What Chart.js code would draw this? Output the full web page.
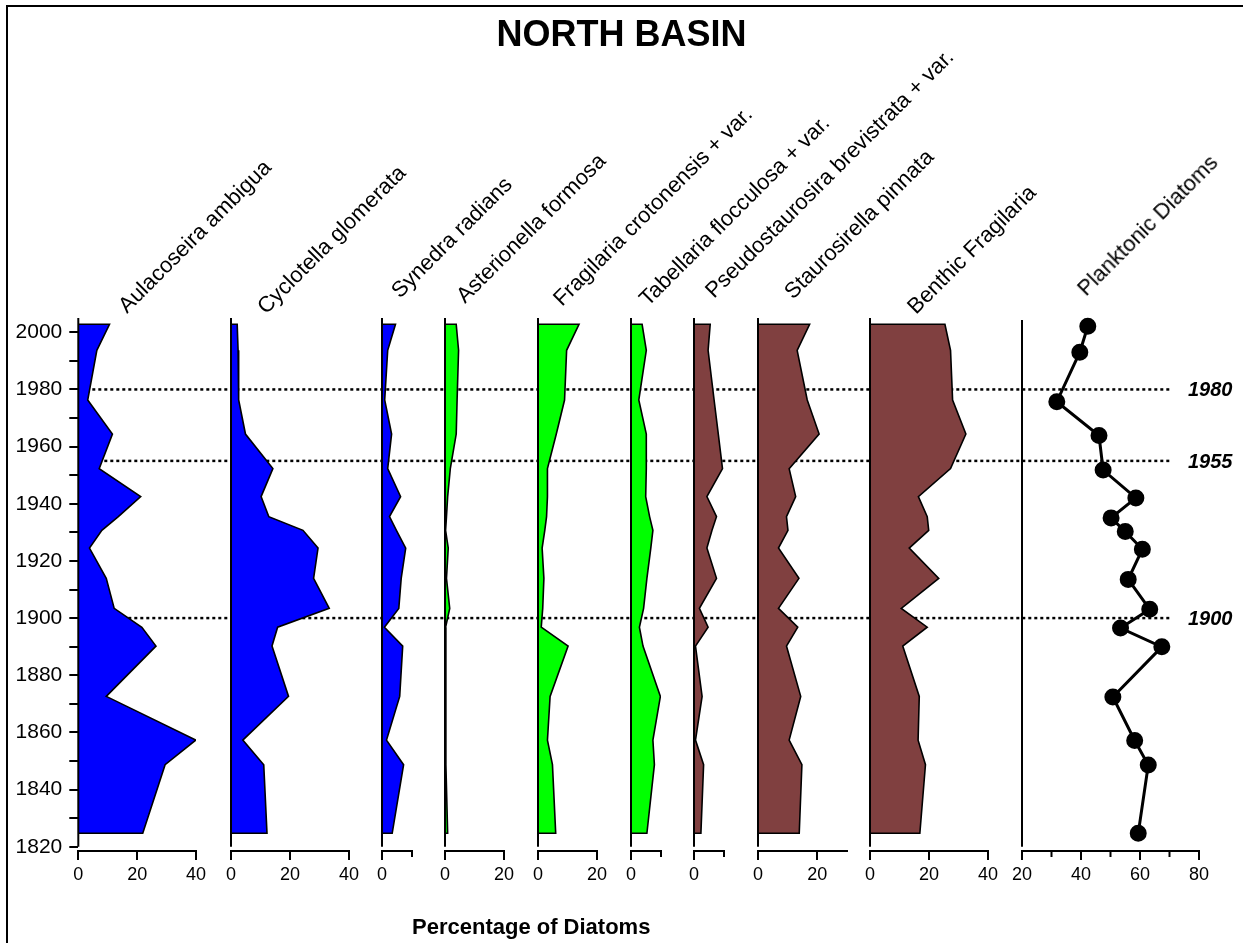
<!DOCTYPE html>
<html>
<head>
<meta charset="utf-8">
<script src="https://cdn.jsdelivr.net/npm/chart.js@4.4.1/dist/chart.umd.min.js"></script>
<style>
  html, body { margin: 0; padding: 0; background: #fff; }
  #page { position: relative; width: 1243px; height: 943px; overflow: hidden; background: #fff;
          font-family: Arial, "Liberation Sans", sans-serif; color: #000; }
  #frame { position: absolute; left: 6px; top: 5px; width: 1400px; height: 1100px;
           border-top: 2px solid #000; border-left: 2px solid #000; }
  canvas { position: absolute; }
  .title { position: absolute; width: 0; height: 0; transform: rotate(-45deg); transform-origin: 0 0; }
  .title span { position: absolute; left: 0; bottom: -0.16em; white-space: nowrap; font-size: 22px; line-height: 1; }
  .marker { position: absolute; font-size: 20px; font-weight: bold; font-style: italic; line-height: 24px; height: 24px; }
  #heading { position: absolute; left: 0; width: 1243px; top: 13px; text-align: center; font-size: 36px; font-weight: bold; }
  #xlabel { position: absolute; left: 412px; top: 914px; font-size: 22px; font-weight: bold; white-space: nowrap; }
</style>
</head>
<body>
<div id="page">
  <div id="frame"></div>
  <canvas id="bg" width="1243" height="943"></canvas>
  <div id="heading">NORTH BASIN</div>
  <div id="xlabel">Percentage of Diatoms</div>
</div>
<script>
// sample ages (years AD), top to bottom
const years = [2002.8, 1993.7, 1976.3, 1964.4, 1952.3, 1942.5, 1935.5, 1930.7, 1924.5,
               1913.9, 1903.4, 1896.8, 1890.2, 1872.6, 1857.3, 1848.7, 1824.7];

// percentages per taxon, same order as years
const aulacoseira     = [10.6, 6.3, 3.2, 11.6, 7.1, 21.2, 13.6, 8.0, 3.8, 9.5, 12.2, 21.6, 26.4, 9.5, 39.9, 29.5, 21.9];
const cyclotella      = [2.1, 2.4, 2.6, 4.9, 14.2, 10.2, 12.8, 24.4, 29.5, 28.0, 33.3, 15.8, 13.9, 19.5, 4.0, 11.1, 12.2];
const synedra         = [4.5, 1.9, 0.9, 3.2, 1.9, 6.2, 2.5, 4.8, 7.9, 6.4, 5.6, 0.8, 6.9, 5.9, 1.5, 7.2, 3.4];
const asterionella    = [3.8, 4.6, 4.1, 3.8, 1.8, 0.9, 0.5, 0.2, 1.1, 0.5, 1.6, 0.2, 0.3, 0.3, 0.3, 0.3, 0.9];
const fragCrotonensis = [13.9, 9.7, 9.0, 6.2, 3.2, 3.2, 2.9, 2.3, 1.4, 2.0, 1.6, 1.1, 10.2, 4.1, 3.2, 4.9, 6.0];
const tabellaria      = [3.7, 5.1, 2.6, 5.1, 5.1, 4.9, 6.2, 7.3, 6.6, 5.3, 4.2, 2.8, 4.0, 9.8, 7.3, 7.8, 5.3];
const pseudostaurosira= [5.4, 4.7, 6.7, 8.1, 9.5, 4.3, 7.5, 6.0, 4.3, 7.5, 1.8, 4.7, 0.5, 2.7, 0.5, 3.2, 2.3];
const staurosirella   = [17.4, 13.2, 16.6, 20.6, 10.5, 12.7, 9.6, 10.1, 6.9, 13.8, 6.9, 13.4, 9.6, 14.4, 10.5, 14.8, 13.9];
const benthicFrag     = [25.4, 27.3, 28.0, 32.5, 27.3, 16.4, 19.4, 19.9, 13.3, 23.3, 10.6, 19.4, 11.1, 16.7, 16.3, 18.8, 16.9];
const planktonic      = [42.3, 39.6, 31.8, 46.1, 47.5, 58.6, 50.2, 55.0, 60.8, 56.0, 63.3, 53.4, 67.4, 50.8, 58.2, 62.8, 59.4];

const taxa = ['Aulacoseira ambigua', 'Cyclotella glomerata', 'Synedra radians', 'Asterionella formosa',
              'Fragilaria crotonensis + var.', 'Tabellaria flocculosa + var.',
              'Pseudostaurosira brevistrata + var.', 'Staurosirella pinnata', 'Benthic Fragilaria',
              'Planktonic Diatoms'];
const seriesValues = [aulacoseira, cyclotella, synedra, asterionella, fragCrotonensis,
                      tabellaria, pseudostaurosira, staurosirella, benthicFrag, planktonic];
const xRanges = [[0, 40], [0, 40], [0, 10], [0, 20], [0, 20], [0, 10], [0, 10], [0, 30], [0, 40], [20, 80]];
const markerYears = [1980, 1955, 1900];
const yMin = 1818.5, yMax = 2005, yAxisEnd = 1820;

// layout
const panelLeft = [78.3, 230.7, 381.5, 444.7, 537.5, 631, 694, 757.7, 870, 1022];
const titleAnchors = [[127, 314], [266, 315], [400, 299], [465, 304], [562, 307],
                      [648, 307], [714, 299], [793, 300], [916, 315], [1086, 297]];
const BLUE = '#0000ff', GREEN = '#00ff00', BROWN = '#804040';
const fillColors = [BLUE, BLUE, BLUE, GREEN, GREEN, GREEN, BROWN, BROWN, BROWN, null];
const PX = 2.95;      // pixels per percent
const TOP = 310, H = 590, YAXIS_W = 70;

const page = document.getElementById('page');

// vertical axis line of every panel, from the top of the scale down to 1820
const axisLine = {
  id: 'axisLine',
  afterDatasetsDraw(chart) {
    const {ctx, chartArea, scales} = chart;
    ctx.save();
    ctx.strokeStyle = '#000';
    ctx.lineWidth = 2;
    ctx.beginPath();
    ctx.moveTo(chartArea.left, scales.y.getPixelForValue(yMax));
    ctx.lineTo(chartArea.left, scales.y.getPixelForValue(yAxisEnd));
    ctx.stroke();
    // shorter minor ticks on the bottom axis (unlabelled values)
    const x = scales.x;
    x.ticks.forEach(t => {
      if (t.value % 20 !== 0) {
        const px = x.getPixelForValue(t.value);
        ctx.beginPath();
        ctx.moveTo(px, chartArea.bottom);
        ctx.lineTo(px, chartArea.bottom + 6);
        ctx.stroke();
      }
    });
    ctx.restore();
  }
};

function makePanel(i) {
  const [xmin, xmax] = xRanges[i];
  const first = i === 0;
  const yW = first ? YAXIS_W : 0;
  const padL = first ? panelLeft[0] - YAXIS_W : 16;
  const padR = 16;
  const cv = document.createElement('canvas');
  cv.width = Math.round(padL + yW + (xmax - xmin) * PX + padR);
  cv.height = H;
  cv.style.left = (panelLeft[i] - padL - yW) + 'px';
  cv.style.top = TOP + 'px';
  page.appendChild(cv);

  const vals = seriesValues[i];
  const isLine = fillColors[i] === null;
  let pts = years.map((y, k) => ({x: vals[k], y: y}));
  if (!isLine) {
    pts = [{x: 0, y: years[0]}].concat(pts, [{x: 0, y: years[years.length - 1]}]);
  }

  const dataset = isLine ? {
    data: pts, borderColor: '#000', borderWidth: 3, pointRadius: 7,
    pointBackgroundColor: '#000', pointBorderColor: '#000', fill: false, tension: 0, clip: false
  } : {
    data: pts, borderColor: '#000', borderWidth: 1.6, pointRadius: 0,
    backgroundColor: fillColors[i], fill: 'origin', tension: 0
  };

  const yScale = {
    type: 'linear', min: yMin, max: yMax, display: first,
    border: { display: false },
    grid: { drawOnChartArea: false, drawTicks: true, tickLength: 9, color: '#000', lineWidth: 2 },
    ticks: {
      stepSize: 10, includeBounds: false, padding: 7,
      color: '#000', font: { family: 'Arial', size: 21 },
      callback: v => (v % 20 === 0 ? v : '')
    }
  };
  if (first) {
    yScale.afterFit = s => { s.width = YAXIS_W; s.paddingTop = 0; s.paddingBottom = 0; };
  }

  return new Chart(cv.getContext('2d'), {
    type: 'line',
    data: { datasets: [dataset] },
    options: {
      indexAxis: 'y',
      responsive: false,
      animation: false,
      devicePixelRatio: 1,
      events: [],
      layout: { padding: { left: padL, right: padR, top: 8, bottom: 0 } },
      plugins: { legend: { display: false }, tooltip: { enabled: false } },
      scales: {
        x: {
          type: 'linear', min: xmin, max: xmax, position: 'bottom',
          border: { display: true, color: '#000', width: 2 },
          grid: {
            drawOnChartArea: false, drawTicks: true, tickLength: 9, lineWidth: 2,
            tickColor: c => (c.tick && c.tick.value % 20 !== 0 ? 'rgba(0,0,0,0)' : '#000')
          },
          ticks: {
            stepSize: isLine ? 10 : 20, includeBounds: false, padding: 4, maxRotation: 0,
            autoSkip: false, color: '#000', font: { family: 'Arial', size: 18 },
            callback: v => (v % 20 === 0 ? v : '')
          },
          afterFit: s => { s.height = 49; s.paddingLeft = 0; s.paddingRight = 0; }
        },
        y: yScale
      }
    },
    plugins: [axisLine]
  });
}

const charts = taxa.map((t, i) => makePanel(i));

// rotated taxon titles
taxa.forEach((t, i) => {
  const d = document.createElement('div');
  d.className = 'title';
  d.style.left = titleAnchors[i][0] + 'px';
  d.style.top = titleAnchors[i][1] + 'px';
  const s = document.createElement('span');
  s.textContent = t;
  d.appendChild(s);
  page.appendChild(d);
});

// dotted reference lines behind the profiles, positioned by the first panel's y scale
const yPos = charts[0].scales.y;
const bg = document.getElementById('bg').getContext('2d');
bg.strokeStyle = '#000';
bg.lineWidth = 2.5;
bg.setLineDash([3, 3]);
markerYears.forEach(yr => {
  const py = TOP + yPos.getPixelForValue(yr);
  bg.beginPath();
  bg.moveTo(panelLeft[0] + 2, py);
  bg.lineTo(1172, py);
  bg.stroke();
  const m = document.createElement('div');
  m.className = 'marker';
  m.style.left = '1188px';
  m.style.top = (py - 12) + 'px';
  m.textContent = String(yr);
  page.appendChild(m);
});
</script>
</body>
</html>
